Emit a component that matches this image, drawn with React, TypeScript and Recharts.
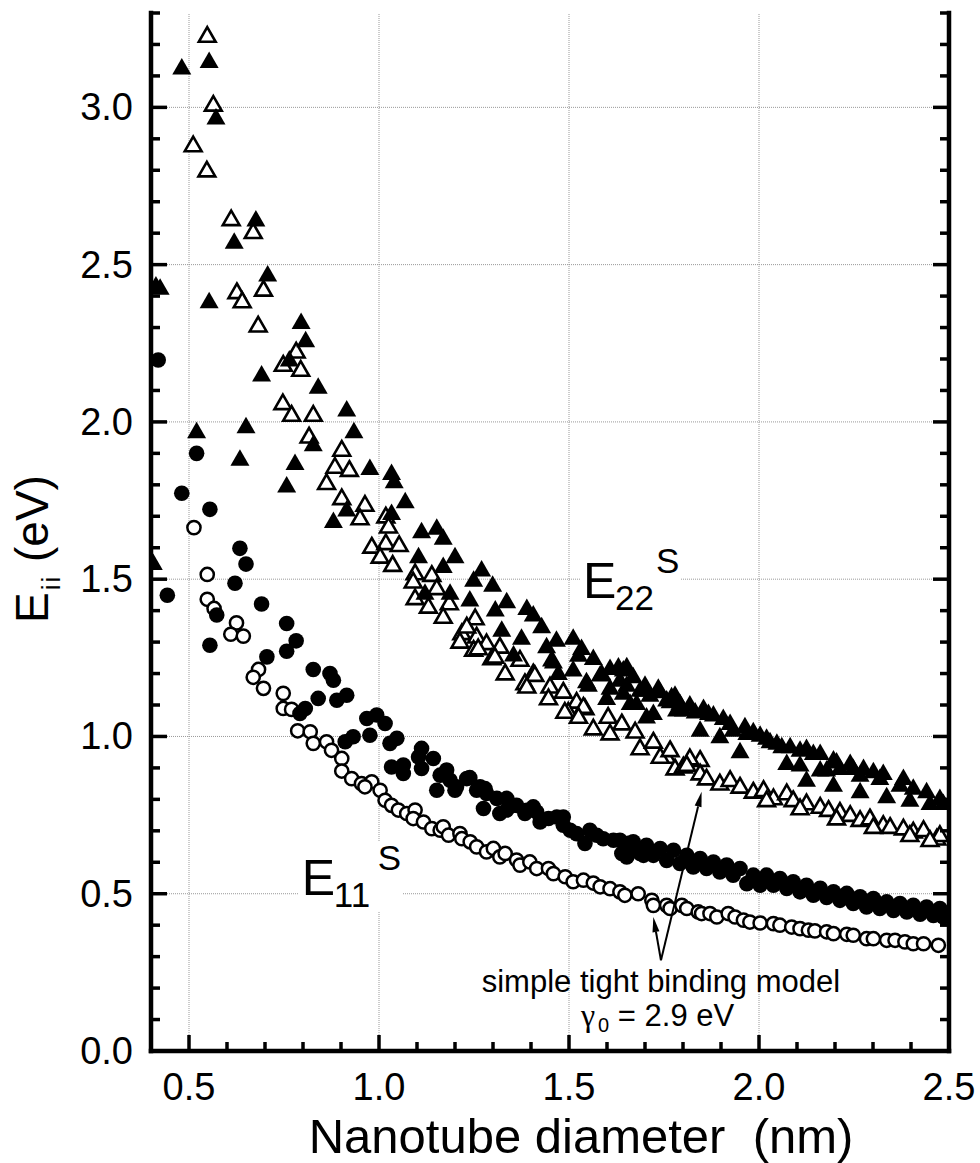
import React from 'react';
import { ScatterChart, Scatter, XAxis, YAxis, ReferenceLine, ReferenceDot } from 'recharts';

// [diameter nm, energy eV]
// open symbols: simple tight binding model, filled symbols: the other data set
const e11Tb: [number, number][] = [
  [0.513, 1.664], [0.548, 1.515], [0.548, 1.436], [0.566, 1.407], [0.625, 1.361], [0.61, 1.325], [0.643, 1.319],
  [0.683, 1.213], [0.669, 1.188], [0.696, 1.153], [0.748, 1.137], [0.748, 1.089], [0.77, 1.086], [0.786, 1.018],
  [0.819, 1.015], [0.827, 0.978], [0.862, 0.983], [0.875, 0.956], [0.902, 0.93], [0.902, 0.89],
  [0.928, 0.866], [0.954, 0.85], [0.981, 0.856], [0.963, 0.84], [1.003, 0.829], [1.016, 0.797], [1.033, 0.781],
  [1.051, 0.766], [1.073, 0.755], [1.095, 0.766], [1.09, 0.739], [1.117, 0.728], [1.139, 0.707], [1.161, 0.702],
  [1.169, 0.713], [1.183, 0.686], [1.213, 0.691], [1.218, 0.675], [1.24, 0.665], [1.257, 0.649], [1.283, 0.633],
  [1.301, 0.644], [1.318, 0.617], [1.332, 0.628], [1.362, 0.607], [1.371, 0.591], [1.397, 0.601], [1.415, 0.58],
  [1.446, 0.58], [1.459, 0.564], [1.49, 0.554], [1.511, 0.538], [1.538, 0.543], [1.564, 0.534], [1.582, 0.522],
  [1.608, 0.516], [1.634, 0.506], [1.647, 0.495], [1.682, 0.5], [1.718, 0.479], [1.722, 0.463], [1.757, 0.463],
  [1.766, 0.453], [1.797, 0.463], [1.81, 0.453], [1.84, 0.442], [1.849, 0.437], [1.871, 0.437], [1.889, 0.426],
  [1.919, 0.437], [1.937, 0.426], [1.959, 0.416], [1.976, 0.41], [2.003, 0.407], [2.038, 0.405], [2.055, 0.4],
  [2.086, 0.394], [2.108, 0.389], [2.13, 0.384], [2.147, 0.382], [2.178, 0.379], [2.196, 0.373], [2.231, 0.371],
  [2.248, 0.368], [2.283, 0.357], [2.301, 0.357], [2.336, 0.352], [2.358, 0.352], [2.384, 0.347], [2.406, 0.341],
  [2.433, 0.341], [2.472, 0.336],
];

const e11Exp: [number, number][] = [
  [0.419, 2.197], [0.52, 1.9], [0.481, 1.773], [0.555, 1.722], [0.634, 1.598], [0.65, 1.548], [0.621, 1.487],
  [0.443, 1.449], [0.573, 1.386], [0.555, 1.29], [0.691, 1.421], [0.757, 1.359], [0.782, 1.304], [0.757, 1.271],
  [0.705, 1.253], [0.827, 1.213], [0.871, 1.2], [0.88, 1.179], [0.84, 1.121], [0.889, 1.115], [0.806, 1.089],
  [0.792, 1.073], [0.915, 1.131], [0.994, 1.068], [0.968, 1.057], [1.016, 1.041], [0.976, 1.004], [0.932, 0.999],
  [0.911, 0.983], [1.047, 0.994], [1.029, 0.978], [1.112, 0.962], [1.143, 0.93], [1.033, 0.903], [1.064, 0.909],
  [1.104, 0.935], [1.178, 0.893], [1.239, 0.869], [1.112, 0.898], [1.187, 0.861], [1.152, 0.829], [1.2, 0.829],
  [1.257, 0.829], [1.279, 0.834], [1.31, 0.803], [1.275, 0.771], [1.336, 0.803], [1.353, 0.781], [1.389, 0.765],
  [1.415, 0.76], [1.318, 0.755], [1.468, 0.744], [1.485, 0.744], [1.064, 0.882], [1.161, 0.877], [1.204, 0.84],
  [1.231, 0.866], [1.266, 0.84], [1.283, 0.819], [1.336, 0.766], [1.362, 0.781], [1.384, 0.755], [1.406, 0.776],
  [1.424, 0.728], [1.446, 0.739], [1.485, 0.718], [1.503, 0.702], [1.52, 0.691], [1.542, 0.66], [1.555, 0.702],
  [1.573, 0.686], [1.59, 0.675], [1.617, 0.67], [1.639, 0.628], [1.656, 0.66], [1.678, 0.644], [1.696, 0.622],
  [1.634, 0.67], [1.669, 0.665], [1.704, 0.654], [1.74, 0.644], [1.775, 0.638], [1.81, 0.622], [1.845, 0.612],
  [1.88, 0.601], [1.915, 0.591], [1.95, 0.58], [1.985, 0.559], [2.02, 0.559], [2.055, 0.548], [2.09, 0.538],
  [2.125, 0.527], [2.161, 0.517], [2.196, 0.506], [2.231, 0.501], [2.266, 0.49], [2.301, 0.485], [2.336, 0.474],
  [2.371, 0.469], [2.406, 0.463], [2.441, 0.458], [2.476, 0.453],
  [1.652, 0.617], [1.687, 0.628], [1.722, 0.622], [1.757, 0.606], [1.792, 0.596], [1.827, 0.585], [1.862, 0.58],
  [1.897, 0.569], [1.932, 0.559], [1.968, 0.532], [2.003, 0.527], [2.038, 0.527], [2.073, 0.517], [2.108, 0.506],
  [2.143, 0.495], [2.178, 0.488], [2.213, 0.479], [2.248, 0.469], [2.283, 0.458], [2.318, 0.453], [2.354, 0.447],
  [2.389, 0.442], [2.424, 0.435], [2.459, 0.431], [2.485, 0.426],
];

const e22Tb: [number, number][] = [
  [0.548, 3.227], [0.564, 3.008], [0.511, 2.879], [0.547, 2.799], [0.611, 2.644], [0.669, 2.603], [0.626, 2.412],
  [0.64, 2.383], [0.696, 2.42], [0.682, 2.306], [0.782, 2.223], [0.748, 2.181], [0.794, 2.165], [0.747, 2.059],
  [0.77, 2.022], [0.827, 2.022], [0.816, 1.953], [0.902, 1.911], [0.884, 1.857], [0.922, 1.847], [0.862, 1.805],
  [0.902, 1.757], [0.963, 1.736], [0.95, 1.693], [1.018, 1.699], [1.025, 1.667], [0.981, 1.603], [1.018, 1.614],
  [1.053, 1.608], [1.003, 1.571], [1.036, 1.545], [1.095, 1.518], [1.139, 1.513], [1.09, 1.492], [1.152, 1.471],
  [1.095, 1.439], [1.13, 1.412], [1.185, 1.423], [1.169, 1.38], [1.253, 1.375], [1.218, 1.328], [1.257, 1.317],
  [1.283, 1.296], [1.213, 1.301], [1.318, 1.285], [1.249, 1.275], [1.297, 1.248], [1.371, 1.243], [1.332, 1.2],
  [1.406, 1.2], [1.384, 1.169], [1.45, 1.158], [1.485, 1.142], [1.446, 1.121], [1.52, 1.11], [1.542, 1.089],
  [1.498, 1.078], [1.564, 1.025], [1.603, 1.062], [1.639, 1.041], [1.674, 1.015], [1.608, 1.009], [1.687, 0.962],
  [1.231, 1.349], [1.261, 1.28], [1.305, 1.253], [1.41, 1.195], [1.389, 1.158], [1.489, 1.078], [1.538, 1.094],
  [1.525, 1.062], [1.722, 0.983], [1.757, 0.935], [1.779, 0.898], [1.74, 0.935], [1.766, 0.956], [1.801, 0.904],
  [1.845, 0.925], [1.818, 0.93], [1.81, 0.909], [1.845, 0.882], [1.862, 0.866], [1.897, 0.85], [1.924, 0.861],
  [1.95, 0.84], [1.985, 0.824], [2.012, 0.829], [2.038, 0.803], [2.073, 0.819], [2.09, 0.797], [2.125, 0.787],
  [2.161, 0.776], [2.183, 0.766], [2.213, 0.76], [2.24, 0.75], [2.266, 0.734], [2.292, 0.739], [2.327, 0.718],
  [2.345, 0.712], [2.38, 0.707], [2.406, 0.697], [2.433, 0.702], [2.468, 0.675], [2.476, 0.686],
  [2.02, 0.797], [2.108, 0.771], [2.204, 0.739], [2.301, 0.712], [2.397, 0.686], [2.45, 0.67],
];

const e22Exp: [number, number][] = [
  [0.481, 3.125], [0.553, 3.146], [0.571, 2.966], [0.676, 2.642], [0.619, 2.571], [0.707, 2.467], [0.413, 2.432],
  [0.424, 2.425], [0.553, 2.382], [0.795, 2.316], [0.807, 2.258], [0.764, 2.197], [0.691, 2.149], [0.84, 2.11],
  [0.52, 1.969], [0.65, 1.985], [0.634, 1.881], [0.779, 1.868], [0.757, 1.796], [0.827, 1.927], [0.406, 1.55],
  [0.915, 2.038], [0.934, 1.969], [0.976, 1.852], [1.033, 1.836], [1.04, 1.81], [1.069, 1.746], [0.915, 1.72],
  [0.88, 1.683], [1.033, 1.709], [1.112, 1.651], [1.152, 1.662], [1.169, 1.63], [1.104, 1.571], [1.2, 1.571],
  [1.169, 1.54], [1.27, 1.529], [1.249, 1.497], [1.299, 1.481], [1.121, 1.455], [1.187, 1.455], [1.239, 1.434],
  [1.336, 1.428], [1.306, 1.402], [1.389, 1.407], [1.406, 1.386], [1.428, 1.349], [1.323, 1.338], [1.375, 1.312],
  [1.467, 1.306], [1.511, 1.312], [1.441, 1.285], [1.533, 1.28], [1.564, 1.248], [1.459, 1.237], [1.354, 1.259],
  [1.511, 1.211], [1.472, 1.2], [1.586, 1.2], [1.63, 1.221], [1.669, 1.19], [1.608, 1.153], [1.643, 1.137],
  [1.696, 1.147], [1.599, 1.121], [1.704, 1.062], [1.661, 1.105], [1.551, 1.163], [1.525, 1.258], [1.454, 1.243],
  [1.546, 1.174], [1.582, 1.195], [1.608, 1.216], [1.652, 1.163], [1.739, 1.142], [1.678, 1.105], [1.722, 1.073],
  [1.766, 1.11], [1.783, 1.084], [1.643, 1.211], [1.7, 1.163], [1.77, 1.126], [1.792, 1.105], [1.832, 1.078],
  [1.867, 1.073], [1.845, 1.02], [1.897, 0.999], [1.924, 1.041], [1.968, 1.009], [2.003, 1.004], [1.95, 0.951],
  [2.029, 0.983], [2.06, 0.967], [2.108, 0.956], [2.143, 0.946], [2.073, 0.914], [2.196, 0.925], [2.248, 0.898],
  [2.301, 0.888], [2.178, 0.893], [2.108, 0.909], [2.161, 0.893], [2.213, 0.898], [2.266, 0.877], [2.318, 0.866],
  [2.371, 0.845], [2.406, 0.835], [2.441, 0.824], [2.476, 0.803], [2.485, 0.787],
  [1.652, 1.222], [1.634, 1.179], [1.687, 1.147], [1.713, 1.131], [1.735, 1.153], [1.757, 1.116], [1.779, 1.131],
  [1.801, 1.084], [1.818, 1.1], [1.854, 1.089], [1.88, 1.068], [1.906, 1.057], [1.932, 1.02], [1.963, 1.031],
  [1.985, 1.015], [2.02, 0.994], [2.047, 0.978], [2.082, 0.967], [2.125, 0.962], [2.161, 0.946], [2.204, 0.919],
  [2.24, 0.914], [2.275, 0.898], [2.327, 0.882], [2.38, 0.866], [2.125, 0.861], [2.196, 0.845], [2.266, 0.824],
  [2.336, 0.808], [2.397, 0.797], [2.45, 0.787],
];

const xTicks = Array.from({ length: 22 }, (_, i) => Math.round(4 + i) / 10);
const yTicks = Array.from({ length: 34 }, (_, i) => i / 10);
const xGrid = [0.5, 1.0, 1.5, 2.0];
const yGrid = [0.5, 1.0, 1.5, 2.0, 2.5, 3.0];

const FONT = '"Liberation Sans", Arial, Helvetica, sans-serif';
const FRAME_W = 4.5;
const TICK_W = 3.5;

const toPts = (arr: [number, number][]) => arr.map(([x, y]) => ({ x, y }));
const isMajor = (v: number) => Math.abs(v * 2 - Math.round(v * 2)) < 1e-6;

// ticks point inward; the first tick of each side also draws that side of the frame
function makeTick(side: 'bottom' | 'top' | 'left' | 'right') {
  return (props: any) => {
    const { x, y, payload, index } = props;
    const v = payload.value;
    const len = isMajor(v) ? 16 : 9;
    const w = Number(props.width) || 798;
    const h = Number(props.height) || 1038;
    const e = FRAME_W / 2;
    let x2 = x;
    let y2 = y;
    let frame = null;
    if (side === 'bottom' || side === 'top') {
      y2 = side === 'bottom' ? y - len : y + len;
      if (index === 0) frame = <line x1={x - e} y1={y} x2={x + w + e} y2={y} stroke="#000" strokeWidth={FRAME_W} />;
    } else {
      x2 = side === 'left' ? x + len : x - len;
      if (index === 0) frame = <line x1={x} y1={y + e} x2={x} y2={y - h - e} stroke="#000" strokeWidth={FRAME_W} />;
    }
    return (
      <g>
        {frame}
        <line x1={x} y1={y} x2={x2} y2={y2} stroke="#000" strokeWidth={TICK_W} />
        {side === 'bottom' && isMajor(v) && (
          <text x={x} y={y + 49} textAnchor="middle" fontSize={38} fontFamily={FONT} fill="#000">
            {v.toFixed(1)}
          </text>
        )}
        {side === 'left' && isMajor(v) && (
          <text x={x - 18} y={y + 13} textAnchor="end" fontSize={38} fontFamily={FONT} fill="#000">
            {v.toFixed(1)}
          </text>
        )}
      </g>
    );
  };
}

const triFilled = (p: any) => (
  <path d={`M${p.cx},${p.cy - 10}L${p.cx + 9.5},${p.cy + 6.5}L${p.cx - 9.5},${p.cy + 6.5}Z`} fill="#000" />
);
const triOpen = (p: any) => (
  <path
    d={`M${p.cx},${p.cy - 8.8}L${p.cx + 8.4},${p.cy + 5.8}L${p.cx - 8.4},${p.cy + 5.8}Z`}
    fill="#fff"
    stroke="#000"
    strokeWidth={2.6}
  />
);
const circFilled = (p: any) => <circle cx={p.cx} cy={p.cy} r={7.8} fill="#000" />;
const circOpen = (p: any) => <circle cx={p.cx} cy={p.cy} r={6.6} fill="#fff" stroke="#000" strokeWidth={2.5} />;

const Arrow = (p: any) => {
  const { x1, y1, x2, y2 } = p;
  const ang = Math.atan2(y2 - y1, x2 - x1);
  const L = 15;
  const W = 3.5;
  const bx = x2 - L * Math.cos(ang);
  const by = y2 - L * Math.sin(ang);
  const nx = -Math.sin(ang) * W;
  const ny = Math.cos(ang) * W;
  return (
    <g>
      <line x1={x1} y1={y1} x2={bx} y2={by} stroke="#000" strokeWidth={2} />
      <polygon points={`${x2},${y2} ${bx + nx},${by + ny} ${bx - nx},${by - ny}`} fill="#000" />
    </g>
  );
};

const BandLabel = (sub: string, supDx: number) => (p: any) => {
  const { cx, cy } = p;
  return (
    <g fontFamily={FONT} fill="#000">
      <rect x={cx - 3} y={cy - 54} width={supDx + 28} height={70} fill="#fff" />
      <text x={cx} y={cy} fontSize={50}>E</text>
      <text x={cx + 32} y={cy + 12} fontSize={35}>{sub}</text>
      <text x={cx + supDx} y={cy - 25} fontSize={35}>S</text>
    </g>
  );
};

const ModelNote = (p: any) => {
  const { cx, cy } = p;
  return (
    <g fill="#000">
      <text x={cx} y={cy + 32} textAnchor="middle" fontSize={31} fontFamily={FONT}>
        simple tight binding model
      </text>
      <text x={cx - 80} y={cy + 66} fontSize={31} fontFamily={FONT}>
        <tspan fontFamily='"Liberation Serif", "DejaVu Serif", serif' fontSize={32}>γ</tspan>
        <tspan fontSize={20} dx={3} dy={6}>0</tspan>
        <tspan dy={-6} style={{ whiteSpace: 'pre' }}>{' = 2.9 eV'}</tspan>
      </text>
    </g>
  );
};

const XTitle = () => (
  <text x={581} y={1153} textAnchor="middle" fontSize={49} fontFamily={FONT} fill="#000" style={{ whiteSpace: 'pre' }}>
    {'Nanotube diameter  (nm)'}
  </text>
);

const YTitle = () => (
  <text transform="rotate(-90)" x={-623} y={48} fontSize={46} fontFamily={FONT} fill="#000" style={{ whiteSpace: 'pre' }}>
    <tspan>E</tspan>
    <tspan fontSize={26} dx={2} dy={12} letterSpacing={2}>ii</tspan>
    <tspan dy={-12}>{' (eV)'}</tspan>
  </text>
);

export default function App() {
  return (
    <div style={{ position: 'absolute', left: 0, top: 0, background: '#fff' }}>
      <ScatterChart width={980} height={1163} margin={{ top: 13, right: 31, bottom: 0, left: 0 }}>
        <XAxis
          dataKey="x"
          type="number"
          domain={[0.4, 2.5]}
          ticks={xTicks}
          interval={0}
          allowDataOverflow
          height={112}
          tickSize={0}
          tickMargin={0}
          tickLine={false}
          axisLine={false}
          tick={makeTick('bottom')}
          label={XTitle}
        />
        <XAxis
          xAxisId="top"
          orientation="top"
          type="number"
          domain={[0.4, 2.5]}
          ticks={xTicks}
          interval={0}
          allowDataOverflow
          mirror
          tickSize={0}
          tickMargin={0}
          tickLine={false}
          axisLine={false}
          tick={makeTick('top')}
        />
        <YAxis
          dataKey="y"
          type="number"
          domain={[0, 3.3]}
          ticks={yTicks}
          interval={0}
          allowDataOverflow
          width={151}
          tickSize={0}
          tickMargin={0}
          tickLine={false}
          axisLine={false}
          tick={makeTick('left')}
          label={YTitle}
        />
        <YAxis
          yAxisId="right"
          orientation="right"
          type="number"
          domain={[0, 3.3]}
          ticks={yTicks}
          interval={0}
          allowDataOverflow
          mirror
          tickSize={0}
          tickMargin={0}
          tickLine={false}
          axisLine={false}
          tick={makeTick('right')}
        />
        {xGrid.map((v) => (
          <ReferenceLine key={`gx${v}`} x={v} stroke="#999" strokeWidth={1} strokeDasharray="1 1" zIndex={-100} />
        ))}
        {yGrid.map((v) => (
          <ReferenceLine key={`gy${v}`} y={v} stroke="#999" strokeWidth={1} strokeDasharray="1 1" zIndex={-100} />
        ))}
        <ReferenceDot x={1.537} y={1.44} r={0} shape={BandLabel('22', 73)} zIndex={-50} />
        <ReferenceDot x={0.797} y={0.495} r={0} shape={BandLabel('11', 76)} zIndex={-50} />
        <Scatter data={toPts(e11Tb)} shape={circOpen} isAnimationActive={false} />
        <Scatter data={toPts(e22Tb)} shape={triOpen} isAnimationActive={false} />
        <Scatter data={toPts(e11Exp)} shape={circFilled} isAnimationActive={false} />
        <Scatter data={toPts(e22Exp)} shape={triFilled} isAnimationActive={false} />
        <ReferenceLine segment={[{ x: 1.742, y: 0.2885 }, { x: 1.849, y: 0.824 }]} shape={Arrow} zIndex={700} />
        <ReferenceLine segment={[{ x: 1.742, y: 0.2885 }, { x: 1.722, y: 0.426 }]} shape={Arrow} zIndex={700} />
        <ReferenceDot x={1.742} y={0.2885} r={0} shape={ModelNote} zIndex={700} />
      </ScatterChart>
    </div>
  );
}
